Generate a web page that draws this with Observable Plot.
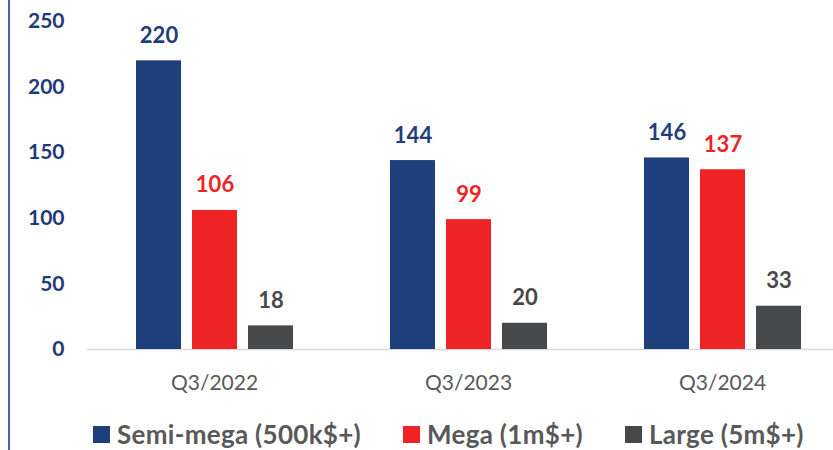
<!DOCTYPE html>
<html>
<head>
<meta charset="utf-8">
<script src="https://cdn.jsdelivr.net/npm/d3@7"></script>
<script src="https://cdn.jsdelivr.net/npm/@observablehq/plot@0.6"></script>
<style>
  html, body { margin: 0; padding: 0; background: #fff; }
  #wrap { position: relative; width: 833px; height: 450px; overflow: hidden; font-family: Lato, "Open Sans", sans-serif; }
  #leftline { position: absolute; left: 8px; top: 0; width: 2px; height: 450px; background: #4A67A3; }
  #chart { position: absolute; left: 0; top: 0; }
  #legend { position: absolute; left: 93px; top: 423px; display: flex; align-items: center; gap: 42px; white-space: nowrap; }
  .item { display: flex; align-items: center; font-weight: 700; font-size: 26px; letter-spacing: 0.3px; color: #595959; line-height: 22px; }
  .sw { width: 17px; height: 17px; margin-right: 7px; display: inline-block; }
</style>
</head>
<body>
<div id="wrap">
  <div id="leftline"></div>
  <div id="chart"></div>
  <div id="legend"></div>
</div>
<script>
const quarters = ["Q3/2022", "Q3/2023", "Q3/2024"];
const series = ["Semi-mega (500k$+)", "Mega (1m$+)", "Large (5m$+)"];
const semiMega = [220, 144, 146];
const mega = [106, 99, 137];
const large = [18, 20, 33];
const yTicks = [0, 50, 100, 150, 200, 250];
const colors = ["#1F3E7C", "#EE2326", "#474849"];

const valuesBySeries = [semiMega, mega, large];
const data = [];
quarters.forEach((q, i) => {
  series.forEach((s, j) => {
    data.push({quarter: q, series: s, value: valuesBySeries[j][i]});
  });
});

const chart = Plot.plot({
  width: 833,
  height: 410,
  marginTop: 21,
  marginBottom: 61,
  marginLeft: 86,
  marginRight: -16.5,
  style: {fontFamily: "Lato, 'Open Sans', sans-serif", background: "transparent"},
  fx: {domain: quarters, paddingInner: 0, paddingOuter: 0, label: null, axis: null},
  x: {domain: series, paddingInner: 0.2035, paddingOuter: 0.854, axis: null},
  y: {domain: [0, 250], axis: null},
  color: {domain: series, range: colors},
  marks: [
    Plot.ruleY([0], {stroke: "#D9D9D9", strokeWidth: 1.5}),
    Plot.barY(data, {fx: "quarter", x: "series", y: "value", fill: "series"}),
    Plot.text(data, {fx: "quarter", x: "series", y: "value", text: d => String(d.value), fill: "series",
      lineAnchor: "bottom", dy: -18, fontSize: 22, fontWeight: "bold"}),
    Plot.axisY(yTicks, {tickSize: 0, tickPadding: 23, fontSize: 21, fontWeight: "bold", fill: "#1F3A78", label: null}),
    Plot.axisFx({anchor: "bottom", tickSize: 0, tickPadding: 26, fontSize: 21, fill: "#595959", label: null})
  ]
});
document.getElementById("chart").appendChild(chart);

const legend = document.getElementById("legend");
series.forEach((s, j) => {
  const item = document.createElement("div");
  item.className = "item";
  const sw = document.createElement("span");
  sw.className = "sw";
  sw.style.background = colors[j];
  const label = document.createElement("span");
  label.textContent = s;
  item.appendChild(sw);
  item.appendChild(label);
  legend.appendChild(item);
});
</script>
</body>
</html>
